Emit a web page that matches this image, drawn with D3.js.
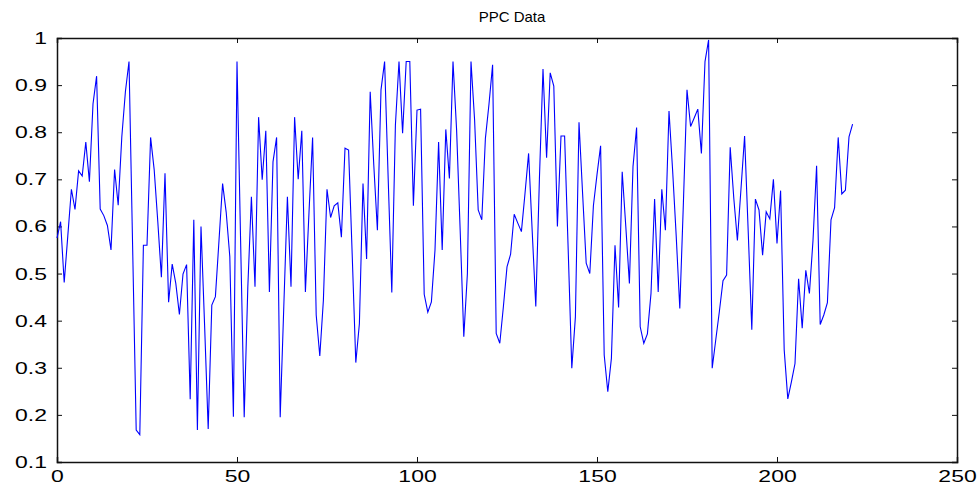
<!DOCTYPE html>
<html><head><meta charset="utf-8">
<script src="https://cdn.jsdelivr.net/npm/d3@7"></script>
<style>
html,body{margin:0;padding:0;background:#fff;}
svg text{font-family:"Liberation Sans",Arial,sans-serif;}
</style></head>
<body>
<svg id="chart" width="980" height="487"></svg>
<script>
const title = "PPC Data";
const values = [
0.575,0.61,0.481,0.58,0.679,0.636,0.718,0.707,0.779,0.695,
0.86,0.919,0.637,0.623,0.602,0.55,0.721,0.645,0.79,0.886,
0.95,0.56,0.168,0.158,0.56,0.56,0.789,0.72,0.61,0.492,
0.713,0.439,0.52,0.479,0.413,0.499,0.519,0.233,0.614,0.168,
0.6,0.39,0.17,0.433,0.451,0.57,0.691,0.63,0.536,0.196,
0.95,0.57,0.195,0.47,0.663,0.472,0.832,0.699,0.803,0.461,
0.737,0.789,0.195,0.43,0.663,0.472,0.832,0.7,0.803,0.461,
0.63,0.789,0.412,0.325,0.444,0.679,0.619,0.644,0.65,0.577,
0.766,0.762,0.54,0.311,0.394,0.691,0.531,0.886,0.73,0.592,
0.89,0.95,0.7,0.46,0.815,0.95,0.798,0.95,0.95,0.644,
0.847,0.849,0.456,0.418,0.44,0.55,0.779,0.55,0.806,0.702,
0.95,0.805,0.59,0.366,0.5,0.95,0.826,0.635,0.614,0.787,
0.86,0.943,0.373,0.352,0.43,0.514,0.541,0.626,0.607,0.589,
0.67,0.755,0.59,0.43,0.70,0.934,0.746,0.926,0.898,0.6,
0.792,0.792,0.55,0.299,0.408,0.821,0.67,0.522,0.5,0.644,
0.71,0.771,0.327,0.249,0.32,0.56,0.428,0.716,0.6,0.479,
0.727,0.81,0.387,0.352,0.372,0.458,0.658,0.461,0.679,0.592,
0.845,0.72,0.58,0.426,0.65,0.89,0.812,0.83,0.849,0.755,
0.95,0.996,0.299,0.36,0.42,0.485,0.497,0.768,0.66,0.57,
0.68,0.792,0.59,0.381,0.658,0.635,0.539,0.631,0.616,0.7,
0.564,0.676,0.338,0.234,0.27,0.309,0.489,0.384,0.507,0.458,
0.57,0.729,0.392,0.412,0.438,0.614,0.64,0.789,0.669,0.677,
0.79,0.817
];
const xTicks = [0,50,100,150,200,250];
const yTicks = [0.1,0.2,0.3,0.4,0.5,0.6,0.7,0.8,0.9,1];

const svg = d3.select("#chart");
const L=57, R=957, T=38, B=462;
const x = d3.scaleLinear().domain([0,250]).range([L,R]);
const y = d3.scaleLinear().domain([0.1,1]).range([B,T]);

const fmt = d => d===1 ? "1" : d3.format(".1f")(d);

const gB = svg.append("g").attr("transform",`translate(0,${B})`)
  .call(d3.axisBottom(x).tickValues(xTicks).tickSize(-5).tickPadding(6).tickFormat(d3.format("d")));
const gL = svg.append("g").attr("transform",`translate(${L},0)`)
  .call(d3.axisLeft(y).tickValues(yTicks).tickSize(-5).tickPadding(10).tickFormat(fmt));
const gT = svg.append("g").attr("transform",`translate(0,${T})`)
  .call(d3.axisTop(x).tickValues(xTicks).tickSize(-5).tickFormat(""));
const gR = svg.append("g").attr("transform",`translate(${R},0)`)
  .call(d3.axisRight(y).tickValues(yTicks).tickSize(-5).tickFormat(""));

[gB,gL,gT,gR].forEach(g=>{
  g.select(".domain").attr("stroke","#111").attr("stroke-width",1.5);
  g.selectAll(".tick line").attr("stroke","#111").attr("stroke-width",1);
  g.selectAll(".tick text").attr("fill","#000").style("font-size","17px")
   .style("font-family",'"Liberation Sans",Arial,sans-serif');
});
gB.selectAll(".tick text").attr("dy","0.85em");
// widen tick labels horizontally like the reference
[gB,gL].forEach(g=>g.selectAll(".tick text").each(function(){
  const w = this.getComputedTextLength();
  d3.select(this).attr("textLength", w*1.35).attr("lengthAdjust","spacingAndGlyphs");
}));

const line = d3.line().x((d,i)=>x(i)).y(d=>y(d));
svg.append("path").datum(values)
  .attr("fill","none").attr("stroke","#0000ff").attr("stroke-width",1.1)
  .attr("d",line);

svg.append("text").attr("x",(L+R)/2+5).attr("y",22).attr("text-anchor","middle")
  .style("font-size","15px").attr("fill","#000").text(title);
</script>
</body></html>
